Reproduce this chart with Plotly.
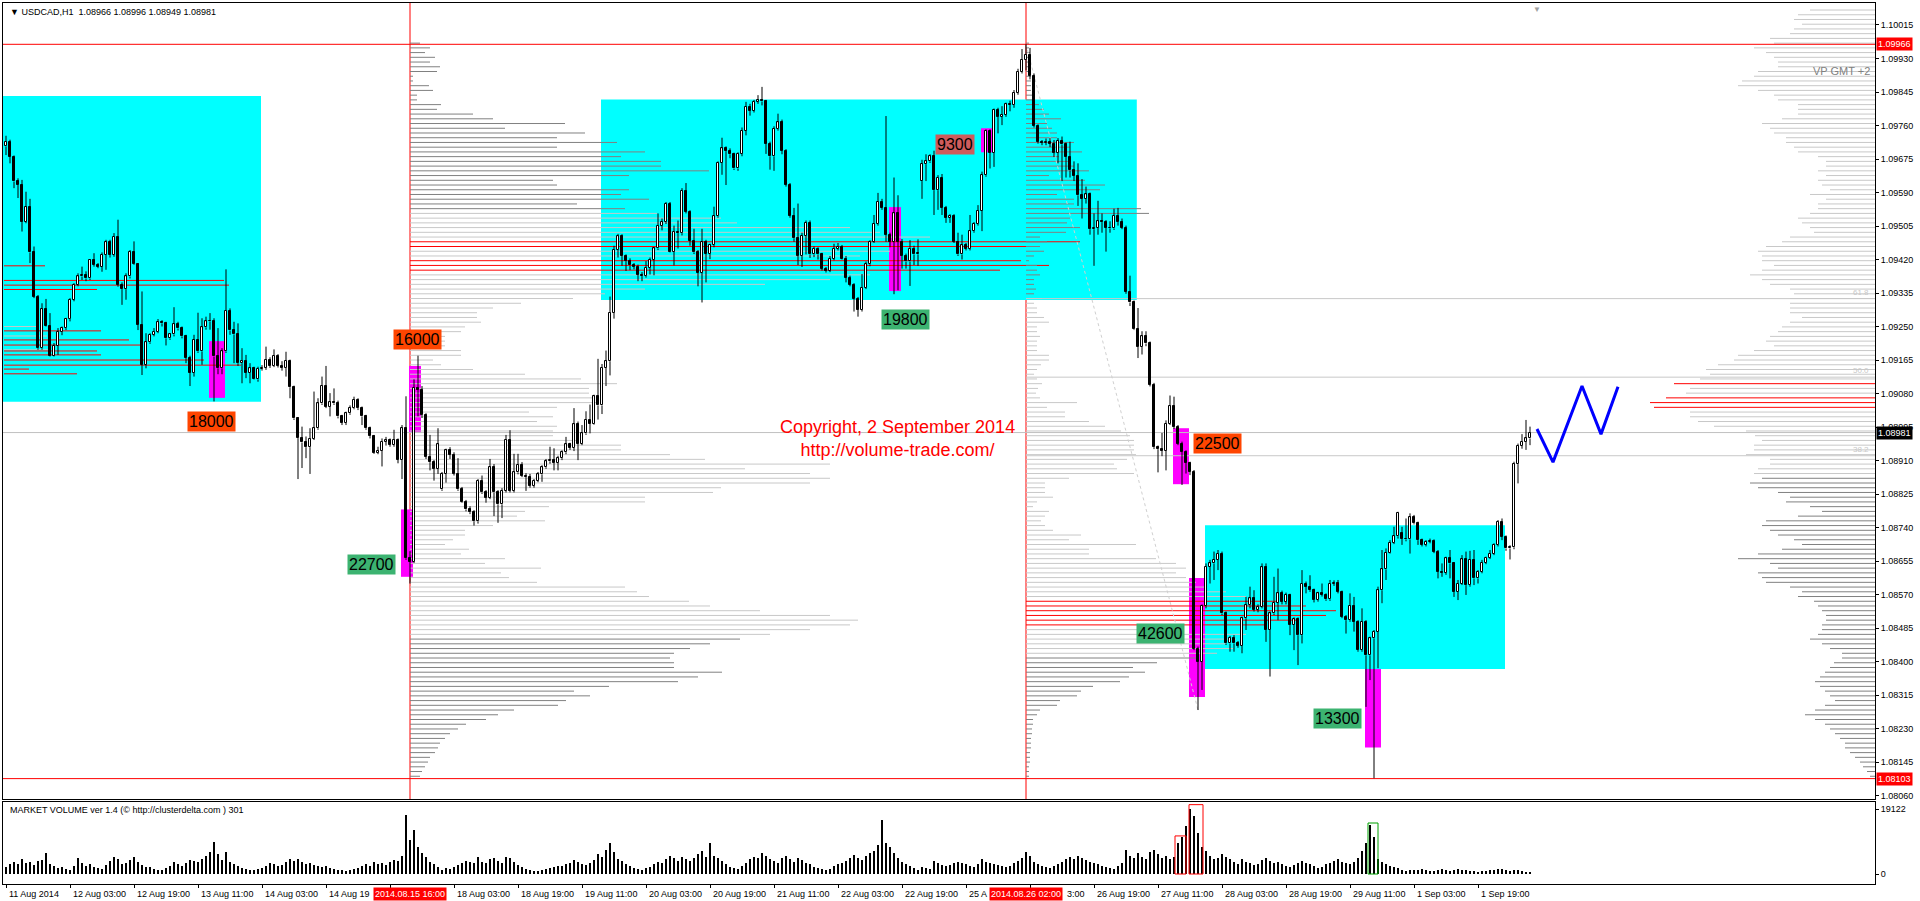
import plotly.graph_objects as go

PT = 1e-5  # price point (values below are in points)

# ---------------- OHLC (H1 bars, 11 Aug 2014 11:00 .. 2 Sep 2014 08:00) ----------------
O = [109707,109719,109681,109618,109609,109516,109553,109438,109326,109195,
     109294,109252,109176,109201,109236,109246,109269,109318,109356,109377,
     109381,109372,109419,109406,109402,109432,109464,109432,109478,109356,
     109345,109377,109439,109408,109254,109153,109210,109229,109237,109261,
     109258,109220,109230,109256,109245,109225,109170,109133,109216,109187,
     109248,109263,109265,109174,109144,109187,109290,109240,109230,109157,
     109163,109132,109144,109116,109143,109146,109165,109150,109176,109151,
     109145,109163,109096,109017,108967,108956,108944,108965,108992,109055,
     109099,109047,109058,109055,109022,109006,109030,109043,109064,109043,
     109022,108992,108972,108930,108935,108958,108961,108950,108962,108912,
     108992,108662,108653,109095,109089,109026,108919,108906,108889,108837,
     108876,108936,108925,108876,108837,108805,108786,108779,108756,108859,
     108829,108816,108893,108829,108799,108833,108962,108833,108880,108899,
     108872,108868,108846,108859,108875,108893,108908,108911,108904,108916,
     108931,108951,108942,109002,108953,108979,109014,109003,109073,109050,
     109146,109162,109285,109445,109479,109429,109416,109405,109402,109382,
     109378,109399,109419,109448,109505,109515,109562,109440,109491,109487,
     109594,109541,109468,109438,109386,109464,109434,109457,109530,109665,
     109702,109695,109687,109651,109688,109747,109807,109798,109820,109824,
     109821,109714,109682,109751,109768,109696,109610,109531,109474,109429,
     109480,109513,109433,109447,109433,109397,109392,109422,109447,109453,
     109422,109374,109356,109320,109293,109349,109408,109465,109510,109567,
     109551,109483,109465,109537,109465,109429,109415,109447,109433,109619,
     109662,109669,109682,109596,109628,109551,109526,109530,109465,109433,
     109456,109447,109492,109510,109544,109634,109746,109691,109800,109782,
     109787,109814,109812,109843,109897,109927,109939,109886,109759,109719,
     109716,109719,109714,109691,109721,109712,109680,109646,109633,109583,
     109574,109585,109497,109501,109517,109515,109501,109499,109531,109515,
     109501,109338,109311,109243,109198,109225,109207,109102,108944,108939,
     108935,109003,109048,108996,108953,108932,108904,108882,108433,108400,
     108541,108641,108649,108658,108674,108522,108446,108461,108446,108440,
     108510,108543,108560,108531,108539,108639,108480,108522,108549,108573,
     108552,108569,108493,108507,108467,108598,108590,108581,108556,108573,
     108569,108558,108598,108600,108577,108514,108505,108541,108501,108429,
     108501,108416,108459,108476,108581,108634,108676,108701,108718,108725,
     108712,108710,108766,108751,108708,108696,108704,108707,108679,108628,
     108625,108662,108649,108577,108598,108659,108594,108658,108611,108628,
     108651,108664,108674,108696,108755,108717,108687,108690,108901,108947,
     108958,108966]
H = [109734,109724,109684,109626,109622,109592,109574,109453,109330,109309,
     109320,109284,109208,109246,109250,109272,109322,109360,109385,109402,
     109390,109421,109436,109411,109438,109470,109470,109487,109521,109362,
     109385,109444,109466,109411,109339,109233,109233,109246,109269,109266,
     109262,109233,109299,109262,109250,109229,109176,109229,109285,109271,
     109275,109284,109271,109246,109195,109395,109296,109262,109258,109195,
     109178,109157,109148,109148,109152,109199,109172,109192,109180,109162,
     109186,109166,109100,109020,108996,108971,108992,109085,109068,109123,
     109150,109081,109093,109062,109026,109034,109050,109072,109068,109047,
     109026,108996,108975,108945,108966,108970,108966,108988,108966,109000,
     109073,108680,109116,109176,109099,109030,108975,108911,108992,108881,
     108940,108944,108931,108916,108843,108810,108794,108784,108863,108872,
     108835,108914,108901,108835,108840,108975,108987,108927,108927,108906,
     108878,108876,108863,108881,108898,108914,108945,108941,108922,108936,
     108970,108955,109043,109009,109000,109035,109052,109077,109168,109155,
     109189,109326,109455,109485,109484,109433,109423,109411,109407,109388,
     109416,109425,109451,109537,109524,109566,109566,109506,109519,109601,
     109614,109545,109498,109444,109498,109470,109460,109554,109669,109729,
     109707,109702,109691,109692,109755,109820,109815,109825,109837,109858,
     109825,109719,109758,109790,109775,109700,109614,109551,109562,109488,
     109519,109519,109453,109451,109437,109401,109429,109460,109462,109457,
     109429,109379,109360,109325,109383,109415,109469,109533,109589,109574,
     109784,109488,109628,109583,109472,109435,109469,109455,109471,109673,
     109687,109687,109696,109634,109637,109556,109535,109535,109488,109483,
     109462,109533,109515,109558,109643,109750,109750,109803,109805,109809,
     109818,109823,109850,109904,109954,109966,109957,109892,109763,109723,
     109727,109728,109723,109728,109732,109717,109719,109669,109664,109624,
     109605,109590,109537,109569,109537,109520,109517,109549,109551,109524,
     109506,109379,109316,109297,109238,109238,109212,109107,108948,108980,
     109012,109075,109072,109000,108958,108936,108907,108886,108438,108545,
     108649,108658,108679,108683,108679,108527,108465,108467,108452,108514,
     108564,108590,108581,108545,108649,108649,108527,108615,108636,108580,
     108575,108572,108512,108512,108632,108603,108619,108585,108577,108598,
     108573,108607,108606,108607,108580,108518,108573,108564,108505,108535,
     108505,108463,108480,108590,108683,108687,108708,108742,108780,108742,
     108763,108776,108772,108755,108712,108708,108712,108710,108683,108649,
     108666,108683,108652,108607,108670,108679,108681,108683,108632,108658,
     108666,108683,108700,108759,108763,108720,108695,108907,108953,108977,
     109013,108996]
L = [109685,109664,109601,109576,109491,109512,109411,109322,109191,109191,
     109250,109174,109174,109178,109228,109241,109263,109314,109352,109368,
     109365,109368,109402,109398,109389,109394,109425,109427,109351,109305,
     109318,109372,109406,109241,109127,109144,109206,109225,109233,109250,
     109202,109216,109225,109240,109220,109157,109099,109123,109183,109153,
     109242,109242,109060,109129,109129,109183,109229,109157,109150,109106,
     109119,109106,109115,109110,109138,109140,109145,109147,109146,109138,
     109123,109068,109013,108863,108891,108916,108876,108962,108988,109051,
     109043,109022,109051,109017,109000,109000,109026,109040,109038,109000,
     108988,108966,108927,108926,108895,108948,108945,108945,108903,108863,
     108658,108598,108650,109022,109018,108914,108885,108859,108876,108833,
     108854,108914,108872,108833,108803,108781,108774,108745,108750,108825,
     108803,108812,108769,108752,108764,108829,108829,108829,108875,108868,
     108833,108841,108841,108855,108856,108889,108902,108885,108885,108911,
     108926,108937,108934,108911,108949,108975,108979,109001,109014,109028,
     109099,109126,109270,109425,109404,109391,109393,109395,109365,109365,
     109374,109382,109380,109444,109494,109510,109438,109405,109448,109481,
     109537,109455,109434,109352,109311,109362,109421,109451,109526,109635,
     109609,109677,109647,109645,109682,109735,109785,109793,109815,109811,
     109688,109648,109645,109747,109687,109605,109526,109465,109406,109401,
     109433,109424,109426,109420,109392,109387,109388,109418,109443,109420,
     109362,109352,109288,109275,109288,109345,109403,109462,109506,109546,
     109465,109451,109332,109342,109397,109397,109353,109406,109404,109574,
     109619,109665,109533,109546,109533,109513,109513,109462,109429,109420,
     109443,109443,109488,109506,109492,109630,109651,109655,109740,109761,
     109782,109796,109805,109838,109892,109900,109877,109755,109714,109710,
     109710,109705,109680,109664,109619,109628,109628,109619,109556,109524,
     109562,109483,109404,109483,109488,109440,109488,109495,109506,109497,
     109333,109302,109241,109170,109179,109200,109098,108939,108880,108921,
     108885,109000,108990,108949,108848,108877,108873,108429,108277,108328,
     108535,108598,108607,108632,108518,108442,108425,108425,108435,108421,
     108480,108535,108527,108525,108535,108450,108362,108518,108505,108545,
     108545,108467,108429,108391,108446,108573,108577,108550,108552,108565,
     108554,108554,108592,108573,108510,108471,108501,108476,108425,108425,
     108285,108353,108104,108383,108548,108607,108674,108698,108712,108696,
     108705,108674,108748,108696,108692,108692,108700,108675,108611,108615,
     108620,108611,108564,108556,108594,108569,108590,108594,108598,108624,
     108647,108660,108670,108692,108708,108681,108659,108685,108852,108940,
     108937,108949]
C = [109719,109681,109618,109609,109516,109553,109438,109326,109195,109294,
     109252,109176,109201,109236,109246,109269,109318,109356,109377,109381,
     109372,109419,109406,109402,109432,109464,109432,109478,109356,109345,
     109377,109439,109408,109254,109153,109210,109229,109237,109261,109258,
     109220,109230,109256,109245,109225,109170,109133,109216,109187,109248,
     109263,109265,109174,109144,109187,109290,109240,109230,109157,109163,
     109132,109144,109116,109143,109146,109165,109150,109176,109151,109145,
     109163,109096,109017,108967,108956,108944,108965,108992,109055,109099,
     109047,109058,109055,109022,109006,109030,109043,109064,109043,109022,
     108992,108972,108930,108935,108958,108961,108950,108962,108912,108992,
     108662,108653,109095,109089,109026,108919,108906,108889,108951,108876,
     108936,108925,108876,108837,108805,108786,108779,108756,108859,108829,
     108816,108893,108829,108799,108833,108962,108833,108880,108899,108872,
     108868,108846,108859,108875,108893,108908,108911,108904,108916,108931,
     108951,108942,109002,108953,108979,109014,109003,109073,109050,109146,
     109162,109285,109445,109479,109429,109416,109405,109402,109382,109378,
     109399,109419,109448,109505,109515,109562,109440,109491,109487,109594,
     109541,109468,109438,109386,109464,109434,109457,109530,109665,109702,
     109695,109687,109651,109688,109747,109807,109798,109820,109824,109821,
     109714,109682,109751,109768,109696,109610,109531,109474,109429,109480,
     109513,109433,109447,109433,109397,109392,109422,109447,109453,109422,
     109374,109356,109320,109293,109349,109408,109465,109510,109567,109551,
     109483,109465,109537,109465,109429,109415,109447,109433,109436,109662,
     109669,109682,109596,109628,109551,109526,109530,109465,109433,109456,
     109447,109492,109510,109544,109634,109746,109691,109800,109782,109787,
     109814,109812,109843,109897,109927,109939,109886,109759,109719,109716,
     109719,109714,109691,109721,109712,109680,109646,109633,109583,109574,
     109585,109497,109501,109517,109515,109501,109499,109531,109515,109501,
     109338,109311,109243,109198,109225,109207,109102,108944,108939,108935,
     109003,109048,108996,108953,108932,108904,108882,108433,108400,108541,
     108641,108649,108658,108674,108522,108446,108461,108446,108440,108510,
     108543,108560,108531,108539,108639,108480,108522,108549,108573,108552,
     108569,108493,108507,108467,108598,108590,108581,108556,108573,108569,
     108558,108598,108600,108577,108514,108505,108541,108501,108429,108501,
     108416,108459,108476,108581,108634,108676,108701,108718,108778,108712,
     108710,108766,108751,108708,108696,108704,108707,108679,108628,108625,
     108662,108649,108577,108598,108659,108594,108658,108611,108628,108651,
     108664,108674,108696,108755,108717,108687,108690,108901,108947,108958,
     108966,108981]

# ---------------- Market volume per bar ----------------
VOL = [2200,3000,3600,2800,4300,3100,3500,2600,3900,4200,
       6100,3000,2400,1800,2000,1500,1300,2400,4700,3300,
       2300,2900,2000,1700,1500,2600,3800,5000,4300,3000,
       3200,4000,5000,3600,2700,2200,2000,1500,1300,1100,
       1700,2500,3600,2900,2300,3300,4200,3900,3500,4400,
       5400,6500,9400,5800,4200,6500,3600,2900,2300,1800,
       1500,1300,1100,1400,1900,2500,3100,2800,2300,2600,
       3600,4300,3900,4400,3400,3000,3300,2700,2500,2100,
       2300,1800,1600,1300,1100,900,1200,1600,1900,2500,
       3000,2500,3600,2900,3300,2600,3400,4100,3800,5200,
       17500,10000,13000,8000,6100,5000,3600,2900,2200,1100,
       1800,1500,2200,2700,3300,3900,3600,3300,5000,3600,
       3100,4300,4700,3800,3300,5000,4600,3600,2600,2200,
       1500,1200,1000,900,1100,1400,1800,2200,2500,2300,
       2900,3100,4200,3500,3000,2700,3300,4100,5800,5000,
       7200,9000,6500,4300,3800,3000,2300,1800,1500,1300,
       1700,2200,2900,3600,3300,4300,5400,4700,3900,5000,
       4300,3900,4600,5800,6800,5000,9000,5200,4700,3800,
       3000,2200,1700,1400,2300,3100,4400,5000,4700,6100,
       5400,4300,3800,3100,4600,5200,4400,3600,4800,4000,
       3300,2800,2200,1800,1400,1200,1500,2300,2900,3300,
       3900,4700,5600,4800,4100,5200,6100,6800,8600,15800,
       9000,7900,6100,4700,3600,3000,2500,1800,1300,2200,
       1800,1600,3900,3300,2700,2300,2600,3100,3600,3300,
       2800,2400,2200,3000,4300,3600,3300,2900,2600,2300,
       2100,2500,3300,3900,4600,6500,5200,3600,2900,2500,
       2200,1800,2300,2900,3600,4300,5000,4300,5400,4700,
       4000,3600,3300,2900,2500,2200,1800,1500,2300,3300,
       7200,5400,4600,6100,5000,4300,6500,7200,5800,4700,
       5400,4300,5000,9000,11000,14000,19122,17000,12000,8000,
       6800,5400,4300,4700,5800,5000,4300,3600,3000,4300,
       3600,3100,2700,2900,4100,4700,3900,3300,3600,3000,
       2500,2200,2700,3200,3900,3300,2800,2300,1800,2200,
       2800,3300,3900,4400,3600,3100,2900,3600,4700,6800,
       9000,14400,11000,4300,3600,3000,2500,2200,1800,1100,
       900,1100,1300,1200,1500,1200,1000,900,1100,1400,
       1200,1000,1300,1500,1200,1100,900,800,700,800,
       900,1100,1300,1600,1400,1200,1000,1100,1300,900,
       700,300]
# outlined volume clusters in the volume window
VBOX_X0 = [292.25, 295.75, 340.5]
VBOX_X1 = [295.0, 299.25, 343.0]
VBOX_TOP = [11200, 20400, 15000]
VBOX_COL = ["#FF0000", "#FF0000", "#00A000"]

# ---------------- time axis labels (parts hidden behind the red markers are cut) ----------------
LABEL_BARS = [0,16,32,48,64,80,112,128,144,160,176,192,208,224,240,272,288,304,320,336,352,368]
LABEL_TEXT = ["11 Aug 2014","12 Aug 03:00","12 Aug 19:00","13 Aug 11:00","14 Aug 03:00","14 Aug 19",
              "18 Aug 03:00","18 Aug 19:00","19 Aug 11:00","20 Aug 03:00","20 Aug 19:00",
              "21 Aug 11:00","22 Aug 03:00","22 Aug 19:00","25 A","26 Aug 19:00",
              "27 Aug 11:00","28 Aug 03:00","28 Aug 19:00","29 Aug 11:00","1 Sep 03:00","1 Sep 19:00"]
TAIL_BAR, TAIL_TEXT = 256, "3:00"          # visible tail of "26 Aug 03:00"
TICK_BARS = [0,16,32,48,64,80,96,112,128,144,160,176,192,208,224,240,256,272,288,304,320,336,352,368]
VLINE_BARS = [101, 255]
VLINE_TEXT = ["2014.08.15 16:00", "2014.08.26 02:00"]

# ---------------- price axis ----------------
PRICE_TICKS = [1.10015,1.09930,1.09845,1.09760,1.09675,1.09590,1.09505,1.09420,1.09335,1.09250,
               1.09165,1.09080,1.08995,1.08910,1.08825,1.08740,1.08655,1.08570,1.08485,1.08400,
               1.08315,1.08230,1.08145,1.08060]
PRICE_TICK_TEXT = ["1.10015","1.09930","1.09845","1.09760","1.09675","1.09590","1.09505","1.09420",
                   "1.09335","1.09250","1.09165","1.09080","1.08995","1.08910","1.08825","1.08740",
                   "1.08655","1.08570","1.08485","1.08400","1.08315","1.08230","1.08145","1.08060"]
HLINE_RED = [109966, 108103]

# ---------------- zones ----------------
BOX_X0 = [-0.75, 148.75, 299.75]
BOX_X1 = [63.75, 282.7, 374.75]
BOX_LO = [109059, 109317, 108381]
BOX_HI = [109835, 109826, 108746]

MAG_X0 = [50.75, 98.75, 100.75, 220.75, 243.75, 291.75, 295.75, 339.75]
MAG_X1 = [54.75, 101.75, 103.75, 223.75, 246.5, 295.75, 299.75, 343.75]
MAG_HI = [109213, 108786, 109150, 109553, 109753, 108992, 108612, 108381]
MAG_LO = [109069, 108615, 108980, 109340, 109692, 108850, 108310, 108182]

CL_TEXT = ["18000", "16000", "22700", "19800", "9300", "22500", "42600", "13300"]
CL_X = [51.25, 102.9, 91.25, 224.75, 237.25, 302.75, 288.5, 332.75]
CL_P = [109008, 109217, 108646, 109267, 109713, 108953, 108472, 108256]
CL_BG = ["#FF4500", "#FF4500", "#3CB371", "#3CB371", "#CD5C5C", "#FF4500", "#3CB371", "#3CB371"]

# ---------------- volume profiles (level k price = VP_TOP - k*VP_STEP) ----------------
VP_TOP = 109969
VP_STEP = 12
VP1 = [10,20,15,25,20,30,27,3,3,19,23,7,7,31,27,63,83,155,95,175,147,207,147,235,211,251,
       251,299,219,143,147,219,211,239,167,215,247,311,327,440,470,520,670,623,480,450,
       611,639,590,460,420,355,235,195,163,111,83,67,67,71,55,51,35,35,35,51,
       51,23,31,63,115,171,207,179,179,183,187,147,119,143,127,147,143,143,167,211,
       211,260,295,420,335,400,420,400,311,303,235,235,139,115,107,135,83,55,55,43,
       35,59,51,95,75,131,91,99,127,215,227,239,279,300,350,420,448,440,400,360,
       330,300,280,264,260,264,264,312,288,268,199,164,180,156,148,104,88,76,56,48,
       40,35,30,28,25,20,18,15,12,10]
VP1_RED = [42, 43, 46, 47, 48]
VP1_VA = [36, 125]
VP2 = [3,3,4,4,5,5,4,5,5,5,5,8,8,13,18,23,35,21,26,31,31,48,44,56,33,42,48,63,23,
       59,79,74,31,48,48,115,123,44,41,54,40,14,21,14,18,8,3,11,11,14,8,8,10,8,
       16,8,11,11,18,23,11,11,14,11,11,11,23,23,15,11,8,11,16,12,10,14,
       51,21,39,39,63,79,95,104,108,108,108,110,101,88,91,108,
       43,19,19,19,27,11,7,23,19,15,19,27,55,43,110,63,63,
       130,150,160,150,160,170,180,200,220,250,280,310,300,270,240,
       150,220,210,200,207,191,171,131,107,119,103,94,67,55,51,34,31,14,11,7,7,6,6,5,5,5,4,4,4,3,3,3]
VP2_RED = [118, 119, 120, 121, 122, 123]
VP2_VA = [54, 129]
VPR_K0 = -7
VPR = [65,77,81,73,81,85,105,101,121,109,101,97,97,117,121,133,137,117,101,97,77,77,77,93,113,105,101,
       89,89,81,77,57,49,49,57,49,57,53,45,65,49,57,57,65,77,73,65,61,85,93,109,117,113,113,101,113,125,
       113,105,85,81,85,85,85,85,73,85,93,
       97,105,109,101,121,137,141,157,169,165,175,201,185,189,209,225,221,185,185,177,161,129,120,113,121,
       121,129,105,105,117,121,113,125,117,97,85,89,65,53,77,109,113,105,97,81,73,93,117,137,105,97,117,
       113,109,85,73,77,61,57,53,49,49,53,53,57,65,53,45,33,33,41,
       45,50,55,60,55,50,45,40,50,60,70,60,50,45,40,35,30,30,25,20,15,12,8,5]
VPR_RED = [72, 75, 76, 77]
VPR_DARK_FROM = 92
B1_P = [109404,109367,109355,109344,109250,109239,109226,109216,109203,109191,109188,109178,109165,109152,109142,109130]
B1_V = [41,220,225,93,35,97,43,125,137,45,93,97,200,237,25,73]
B1_RED = [1,1,1,1,0,1,0,1,1,0,1,1,1,1,1,1]

# ---------------- fibo + forecast ----------------
FIB_HI = 109966
FIB_LO = 108277
FIB_BARS = [255, 298]
FIB_RATIOS = [0.618, 0.5, 0.382]
FIB_TEXT = ["61.8", "50.0", "38.2"]
ZZ_X = [382.75, 386.75, 394, 398.75, 403]
ZZ_P = [108990, 108906, 109099, 108977, 109097]

# ======================= styling / geometry =======================
FONT = "Liberation Sans, Arial, sans-serif"
W, HGT = 1920, 901
ML, MR, MT, MB = 3, 45, 3, 17
PH = HGT - MT - MB
MAIN_DOM = [(HGT - MB - 799) / PH, 1.0]
VOL_DOM = [0.0, (HGT - MB - 802) / PH]
XR = [-0.75, 467.25]
YR = [1.080513, 1.100708]
VR = [-2942, 21181]
VP_SCALE = 0.25          # bars per profile unit
BAR_W = 0.5
LIGHT, DARK, RED = "#C8C8C8", "#808080", "#FF0000"

n = len(C)
X = list(range(n))
shapes = []

def line(x0, x1, y0, y1, color, width=1, dash=None):
    shapes.append(dict(type="line", xref="x", yref="y", x0=x0, x1=x1, y0=y0, y1=y1,
                       line=dict(color=color, width=width, dash=dash), layer="below"))

for x0, x1, lo, hi in zip(BOX_X0, BOX_X1, BOX_LO, BOX_HI):
    shapes.append(dict(type="rect", xref="x", yref="y", x0=x0, x1=x1, y0=lo * PT, y1=hi * PT,
                       fillcolor="#00FFFF", line=dict(width=0), layer="below"))
for x0, x1, lo, hi in zip(MAG_X0, MAG_X1, MAG_LO, MAG_HI):
    shapes.append(dict(type="rect", xref="x", yref="y", x0=x0, x1=x1, y0=lo * PT, y1=hi * PT,
                       fillcolor="#FF00FF", line=dict(width=0), layer="below"))

for p, v, r in zip(B1_P, B1_V, B1_RED):
    line(-0.5, -0.5 + v * VP_SCALE, p * PT, p * PT, RED if r else LIGHT)
for k, v in enumerate(VP1):
    col = RED if k in VP1_RED else (LIGHT if VP1_VA[0] <= k <= VP1_VA[1] else DARK)
    y = (VP_TOP - k * VP_STEP) * PT
    line(VLINE_BARS[0], VLINE_BARS[0] + v * VP_SCALE, y, y, col)
for k, v in enumerate(VP2):
    col = RED if k in VP2_RED else (LIGHT if VP2_VA[0] <= k <= VP2_VA[1] else DARK)
    y = (VP_TOP - k * VP_STEP) * PT
    line(VLINE_BARS[1], VLINE_BARS[1] + v * VP_SCALE, y, y, col)
for j, v in enumerate(VPR):
    k = VPR_K0 + j
    col = RED if k in VPR_RED else (DARK if k >= VPR_DARK_FROM else LIGHT)
    y = (VP_TOP - k * VP_STEP) * PT
    line(XR[1] - v * VP_SCALE, XR[1], y, y, col)

for r in FIB_RATIOS:
    lv = (FIB_LO + r * (FIB_HI - FIB_LO)) * PT
    line(FIB_BARS[0], XR[1], lv, lv, "#C8C8C8")
line(FIB_BARS[0], FIB_BARS[1], FIB_HI * PT, FIB_LO * PT, "#D0D0D0", 1, "dot")
line(XR[0], XR[1], C[-1] * PT, C[-1] * PT, "#C0C0C0")
for p in HLINE_RED:
    line(XR[0], XR[1], p * PT, p * PT, RED)
for b in VLINE_BARS:
    shapes.append(dict(type="line", xref="x", yref="y domain", x0=b, x1=b, y0=0, y1=1,
                       line=dict(color=RED, width=1), layer="below"))
for x0, x1, top, col in zip(VBOX_X0, VBOX_X1, VBOX_TOP, VBOX_COL):
    shapes.append(dict(type="rect", xref="x2", yref="y2", x0=x0, x1=x1, y0=0, y1=top,
                       line=dict(color=col, width=1), fillcolor="rgba(0,0,0,0)", layer="above"))

# ---------------- candles ----------------
wx, wy = [], []
bx_up, bb_up, bh_up, bx_dn, bb_dn, bh_dn = [], [], [], [], [], []
for i in range(n):
    o, h, l, c = O[i] * PT, H[i] * PT, L[i] * PT, C[i] * PT
    top, bot = max(o, c), min(o, c)
    if h > top:
        wx += [i, i, None]; wy += [h, top, None]
    if l < bot:
        wx += [i, i, None]; wy += [bot, l, None]
    hgt = max(top - bot, 1e-6)
    if c >= o:
        bx_up.append(i); bb_up.append(bot); bh_up.append(hgt)
    else:
        bx_dn.append(i); bb_dn.append(bot); bh_dn.append(hgt)

fig = go.Figure()
fig.add_trace(go.Bar(x=bx_up, y=bh_up, base=bb_up, width=BAR_W, marker=dict(color="white", line=dict(color="black", width=1)),
                     hoverinfo="skip", showlegend=False))
fig.add_trace(go.Bar(x=bx_dn, y=bh_dn, base=bb_dn, width=BAR_W, marker=dict(color="black", line=dict(color="black", width=1)),
                     hoverinfo="skip", showlegend=False))
fig.add_trace(go.Scatter(x=wx, y=wy, mode="lines", line=dict(color="black", width=1), hoverinfo="skip", showlegend=False))
fig.add_trace(go.Scatter(x=ZZ_X, y=[p * PT for p in ZZ_P], mode="lines", line=dict(color="#0000FF", width=3),
                         hoverinfo="skip", showlegend=False))
fig.add_trace(go.Bar(x=X, y=VOL, width=BAR_W, marker=dict(color="black", line=dict(width=0)), xaxis="x2", yaxis="y2",
                     hoverinfo="skip", showlegend=False))

ann = []
for b, t in zip(LABEL_BARS, LABEL_TEXT):
    ann.append(dict(x=b, xref="x", y=0, yref="paper", yanchor="top", xanchor="left", yshift=-3, xshift=1,
                    text=t, showarrow=False, font=dict(family=FONT, size=9, color="black")))
ann.append(dict(x=TAIL_BAR, xref="x", y=0, yref="paper", yanchor="top", xanchor="right", yshift=-3, xshift=57,
                text=TAIL_TEXT, showarrow=False, font=dict(family=FONT, size=9, color="black")))
for b, t in zip(VLINE_BARS, VLINE_TEXT):
    ann.append(dict(x=b, xref="x", y=0, yref="paper", yanchor="top", xanchor="center", yshift=-3,
                    text=t, showarrow=False, bgcolor=RED, borderpad=1, font=dict(family=FONT, size=9, color="white")))
for t, xx, p, bg in zip(CL_TEXT, CL_X, CL_P, CL_BG):
    ann.append(dict(x=xx, xref="x", y=p * PT, yref="y", text=t, showarrow=False, bgcolor=bg, borderpad=1,
                    font=dict(family=FONT, size=16, color="black")))
for r, t in zip(FIB_RATIOS, FIB_TEXT):
    lv = (FIB_LO + r * (FIB_HI - FIB_LO)) * PT
    ann.append(dict(x=XR[1] - 1.0, xref="x", y=lv, yref="y", xanchor="right", yanchor="bottom", text=t,
                    showarrow=False, font=dict(family=FONT, size=8, color="#C8C8C8")))
ann.append(dict(x=222.75, xref="x", y=1.08965, yref="y", text="Copyright, 2 September 2014<br>http://volume-trade.com/",
                showarrow=False, font=dict(family=FONT, size=18, color=RED)))
ann.append(dict(x=451.25, xref="x", y=1.09898, yref="y", xanchor="left", text="VP GMT +2", showarrow=False,
                font=dict(family=FONT, size=11, color="#808080")))
ann.append(dict(x=0.5, xref="x", y=(HGT - MB - 12) / PH, yref="paper", xanchor="left", yanchor="middle",
                text="▼ USDCAD,H1  1.08966 1.08996 1.08949 1.08981", showarrow=False,
                font=dict(family=FONT, size=9, color="black")))
ann.append(dict(x=0.5, xref="x", y=(HGT - MB - 810) / PH, yref="paper", xanchor="left", yanchor="middle",
                text="MARKET VOLUME ver 1.4 (© http://clusterdelta.com ) 301", showarrow=False,
                font=dict(family=FONT, size=9, color="black")))
ann.append(dict(x=382.75, xref="x", y=1.0, yref="paper", yanchor="top", text="▼", showarrow=False,
                font=dict(family=FONT, size=8, color="#A0A0A0")))
for p, bg in [(HLINE_RED[0], RED), (C[-1], "black"), (HLINE_RED[1], RED)]:
    ann.append(dict(x=1, xref="paper", xanchor="left", xshift=1, y=p * PT, yref="y", text="%.5f" % (p * PT),
                    showarrow=False, bgcolor=bg, borderpad=1, font=dict(family=FONT, size=9, color="white")))

fig.update_layout(
    width=W, height=HGT, margin=dict(l=ML, r=MR, t=MT, b=MB),
    paper_bgcolor="white", plot_bgcolor="white", barmode="overlay", bargap=0,
    shapes=shapes, annotations=ann, showlegend=False,
    xaxis=dict(domain=[0, 1], range=XR, anchor="y", showgrid=False, zeroline=False, showticklabels=False,
               showline=True, mirror=True, linecolor="black", linewidth=1, ticks=""),
    yaxis=dict(domain=MAIN_DOM, range=YR, side="right", showgrid=False, zeroline=False,
               tickvals=PRICE_TICKS, ticktext=PRICE_TICK_TEXT, ticks="outside", ticklen=3, tickcolor="black",
               tickfont=dict(family=FONT, size=9, color="black"),
               showline=True, mirror=True, linecolor="black", linewidth=1),
    xaxis2=dict(domain=[0, 1], range=XR, anchor="y2", matches="x", showgrid=False, zeroline=False,
                tickvals=TICK_BARS, ticktext=[""] * len(TICK_BARS), ticks="outside", ticklen=3, tickcolor="black",
                showline=True, mirror=True, linecolor="black", linewidth=1),
    yaxis2=dict(domain=VOL_DOM, range=VR, side="right", showgrid=False, zeroline=False,
                tickvals=[0, 19122], ticktext=["0", "19122"], ticks="outside", ticklen=3, tickcolor="black",
                tickfont=dict(family=FONT, size=9, color="black"),
                showline=True, mirror=True, linecolor="black", linewidth=1),
)

fig.write_html("out.html", config={"displayModeBar": False},
               post_script="document.body.style.margin='0';document.body.style.overflow='hidden';")
